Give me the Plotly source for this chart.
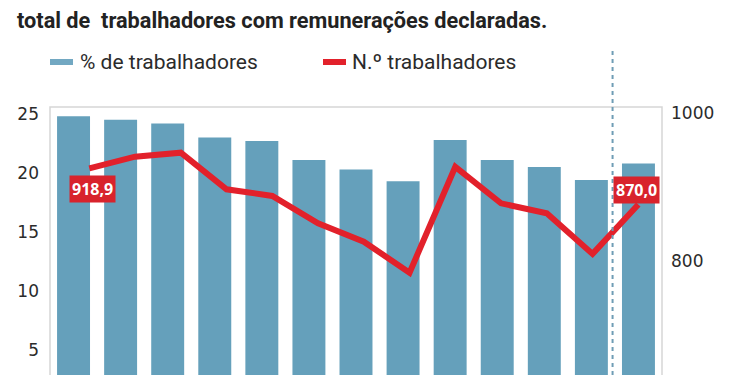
import plotly.graph_objects as go

# ---- data ----
years = [str(y) for y in range(2010, 2023)]
pct_workers = [24.8, 24.5, 24.2, 23.0, 22.7, 21.1, 20.3, 19.3, 22.8, 21.1, 20.5, 19.4, 20.8]
n_workers = [918.9, 934.5, 939.9, 890.6, 881.6, 844.8, 820.0, 778.2, 920.8, 871.7, 858.3, 803.5, 870.0]
left_ticks = [5, 10, 15, 20, 25]
right_ticks = [800, 1000]

BLUE = "#65a0bb"
RED = "#e2212b"
TXT = "#2b2b2b"
NARROW = "Liberation Sans Narrow, Roboto, Arial, sans-serif"
TICKF = "DejaVu Sans, Verdana, sans-serif"

# page body has an 8px margin; reference pixel coordinates are mapped through the plot area
fig = go.Figure()
fig.add_trace(go.Bar(x=years, y=pct_workers, marker=dict(color=BLUE, line=dict(width=0)),
                     xaxis="x", yaxis="y", showlegend=False, hoverinfo="skip"))
line_idx = list(range(len(n_workers)))
fig.add_trace(go.Scatter(x=line_idx, y=n_workers, mode="lines",
                         line=dict(color=RED, width=6), xaxis="x2", yaxis="y2",
                         showlegend=False, hoverinfo="skip"))

fig.update_layout(
    width=742, height=367,
    margin=dict(l=42, r=88, t=99, b=0),
    paper_bgcolor="white", plot_bgcolor="white",
    bargap=0.30,
    xaxis=dict(type="category", range=[-0.5, 12.5], visible=False),
    xaxis2=dict(overlaying="x", range=[-0.859, 12.518], visible=False, anchor="y"),
    yaxis=dict(range=[2.88, 25.59], tickvals=left_ticks, showgrid=False, zeroline=False,
               showline=False, ticks="", ticklabelstandoff=10,
               tickfont=dict(family=TICKF, size=17, color=TXT)),
    yaxis2=dict(overlaying="y", side="right", anchor="x", range=[640.3, 1001.5],
                tickvals=right_ticks, showgrid=False, zeroline=False, showline=False,
                ticks="", ticklabelstandoff=8, ticklabelshift=5,
                tickfont=dict(family=TICKF, size=17, color=TXT)),
)

def px(x):
    return (x - 50) / 612

def py(y):
    return (375 - y) / 268

# plot frame (left, top, right)
fig.add_shape(type="path", xref="paper", yref="paper",
              path="M 0,0 L 0,1 L 1,1 L 1,0", line=dict(color="#d6d6d6", width=1.5), layer="below")

# dashed separator
fig.add_shape(type="line", xref="x", yref="paper", x0=11.45, x1=11.45, y0=0, y1=py(51),
              line=dict(color="#6f9db5", width=2, dash="4px,4px"), layer="above")

# value labels
fig.add_annotation(x=0, y=n_workers[0], xref="x2", yref="y2", text="<b>918,9</b>",
                   showarrow=False, xshift=3, yshift=-21, bgcolor="#d8232c", borderpad=2,
                   font=dict(family="Open Sans, sans-serif", size=16, color="white"))
fig.add_annotation(x=12, y=n_workers[12], xref="x2", yref="y2", text="<b>870,0</b>",
                   showarrow=False, xshift=-2, yshift=15, bgcolor="#d8232c", borderpad=2,
                   font=dict(family="Open Sans, sans-serif", size=16, color="white"))

# title
fig.add_annotation(xref="paper", yref="paper", x=px(15), y=py(20),
                   xanchor="left", yanchor="middle", showarrow=False,
                   text="<b>total de  trabalhadores com remunerações declaradas.</b>",
                   font=dict(family=NARROW, size=21.7, color="#222222"))

# legend
def swatch(x0, x1, color):
    fig.add_shape(type="line", xref="paper", yref="paper",
                  x0=px(x0), x1=px(x1), y0=py(62), y1=py(62),
                  line=dict(color=color, width=6))

swatch(50, 73, "#72a8c2")
swatch(323, 346, RED)
fig.add_annotation(xref="paper", yref="paper", x=px(78), y=py(62),
                   xanchor="left", yanchor="middle", showarrow=False,
                   text="% de trabalhadores", font=dict(family=NARROW, size=21, color=TXT))
fig.add_annotation(xref="paper", yref="paper", x=px(350), y=py(62),
                   xanchor="left", yanchor="middle", showarrow=False,
                   text="N.º trabalhadores", font=dict(family=NARROW, size=21, color=TXT))

fig.write_html("out.html")
